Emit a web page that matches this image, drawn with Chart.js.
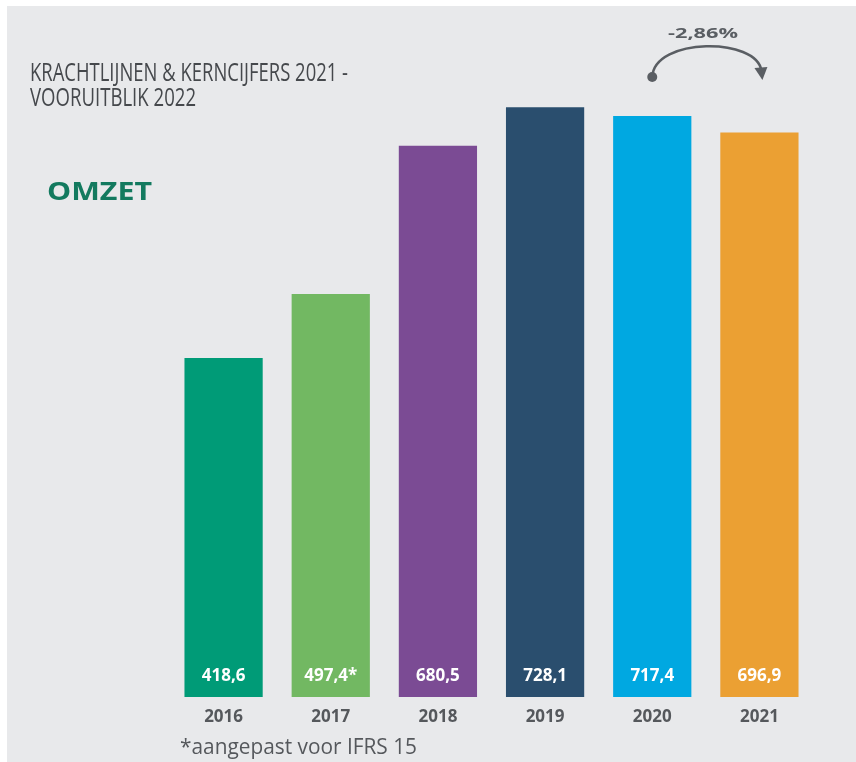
<!DOCTYPE html>
<html>
<head>
<meta charset="utf-8">
<script src="https://cdn.jsdelivr.net/npm/chart.js@4"></script>
<style>
  html, body { margin: 0; padding: 0; background: #fff; }
  #wrap { width: 856px; height: 762px; position: relative; }
</style>
</head>
<body>
<div id="wrap"><canvas id="omzetChart" width="856" height="762"></canvas></div>
<script>
// data
const years = ['2016', '2017', '2018', '2019', '2020', '2021'];
const omzet = [418.6, 497.4, 680.5, 728.1, 717.4, 696.9];
const valueLabels = ['418,6', '497,4*', '680,5', '728,1', '717,4', '696,9'];
const barColors = ['#009b77', '#72b862', '#7b4b94', '#2a4e6e', '#00a8e1', '#eba033'];
const changeLabel = '-2,86%';

// draws text squeezed/stretched to a target width (title font is condensed)
function fitText(ctx, txt, x, y, w) {
    const m = ctx.measureText(txt).width;
    ctx.save();
    ctx.textAlign = 'left';
    ctx.translate(x, y);
    ctx.scale(w / m, 1);
    ctx.fillText(txt, 0, 0);
    ctx.restore();
}

const decorPlugin = {
    id: 'decor',
    beforeDraw(chart) {
        const ctx = chart.ctx;
        ctx.save();
        ctx.fillStyle = '#ffffff';
        ctx.fillRect(0, 0, chart.width, chart.height);
        ctx.fillStyle = '#e8e9eb';
        ctx.fillRect(7, 6, chart.width - 7, chart.height - 6);
        ctx.restore();
    },
    afterDraw(chart) {
        const ctx = chart.ctx;
        ctx.save();
        ctx.textBaseline = 'alphabetic';
        ctx.textAlign = 'left';

        // title
        ctx.fillStyle = '#45484c';
        ctx.font = '25px "Open Sans", sans-serif';
        fitText(ctx, 'KRACHTLIJNEN & KERNCIJFERS 2021 -', 30, 81, 318);
        fitText(ctx, 'VOORUITBLIK 2022', 30, 106, 166);

        // subtitle
        ctx.fillStyle = '#137a5f';
        ctx.font = 'bold 25px "Open Sans", sans-serif';
        fitText(ctx, 'OMZET', 47, 200, 105);

        // footnote
        ctx.fillStyle = '#55585c';
        ctx.font = '21px "Open Sans", sans-serif';
        fitText(ctx, '*aangepast voor IFRS 15', 180, 754, 237);

        // values inside the bars
        const meta = chart.getDatasetMeta(0);
        ctx.fillStyle = '#ffffff';
        ctx.font = 'bold 17px "Open Sans", sans-serif';
        ctx.textAlign = 'center';
        ctx.textBaseline = 'middle';
        meta.data.forEach((bar, i) => {
            ctx.fillText(valueLabels[i], bar.x, 676);
        });

        // change arrow between 2020 and 2021
        const a = meta.data[4], b = meta.data[5];
        const x1 = a.x, x2 = b.x + 2;
        const yBase = 77;
        ctx.strokeStyle = '#5a5e63';
        ctx.fillStyle = '#5a5e63';
        ctx.lineWidth = 2.5;
        ctx.beginPath();
        ctx.moveTo(x1, yBase);
        ctx.bezierCurveTo(x1 + 2, yBase - 40, x2 - 4, yBase - 40, x2, yBase - 6);
        ctx.stroke();
        ctx.beginPath();
        ctx.arc(x1, yBase, 5, 0, Math.PI * 2);
        ctx.fill();
        ctx.beginPath();
        ctx.moveTo(x2 - 7, yBase - 9);
        ctx.lineTo(x2 + 6, yBase - 10);
        ctx.lineTo(x2 + 1, yBase + 3);
        ctx.closePath();
        ctx.fill();

        ctx.font = 'bold 15px "Open Sans", sans-serif';
        ctx.textBaseline = 'alphabetic';
        fitText(ctx, changeLabel, 668, 38, 70);
        ctx.restore();
    }
};

const ctx = document.getElementById('omzetChart').getContext('2d');
const omzetChart = new Chart(ctx, {
    type: 'bar',
    data: {
        labels: years,
        datasets: [{
            data: omzet,
            backgroundColor: barColors,
            borderWidth: 0,
            barPercentage: 0.73,
            categoryPercentage: 1.0
        }]
    },
    options: {
        responsive: false,
        animation: false,
        layout: { padding: { top: 49, left: 170, right: 43, bottom: 0 } },
        plugins: {
            legend: { display: false },
            tooltip: { enabled: false }
        },
        scales: {
            x: {
                grid: { display: false },
                border: { display: false },
                ticks: {
                    color: '#55585c',
                    padding: 2,
                    font: { family: '"Open Sans", sans-serif', size: 17, weight: 'bold' }
                },
                afterFit(scale) { scale.height = 65; }
            },
            y: {
                display: false,
                min: 0,
                max: 800
            }
        }
    },
    plugins: [decorPlugin]
});
</script>
</body>
</html>
